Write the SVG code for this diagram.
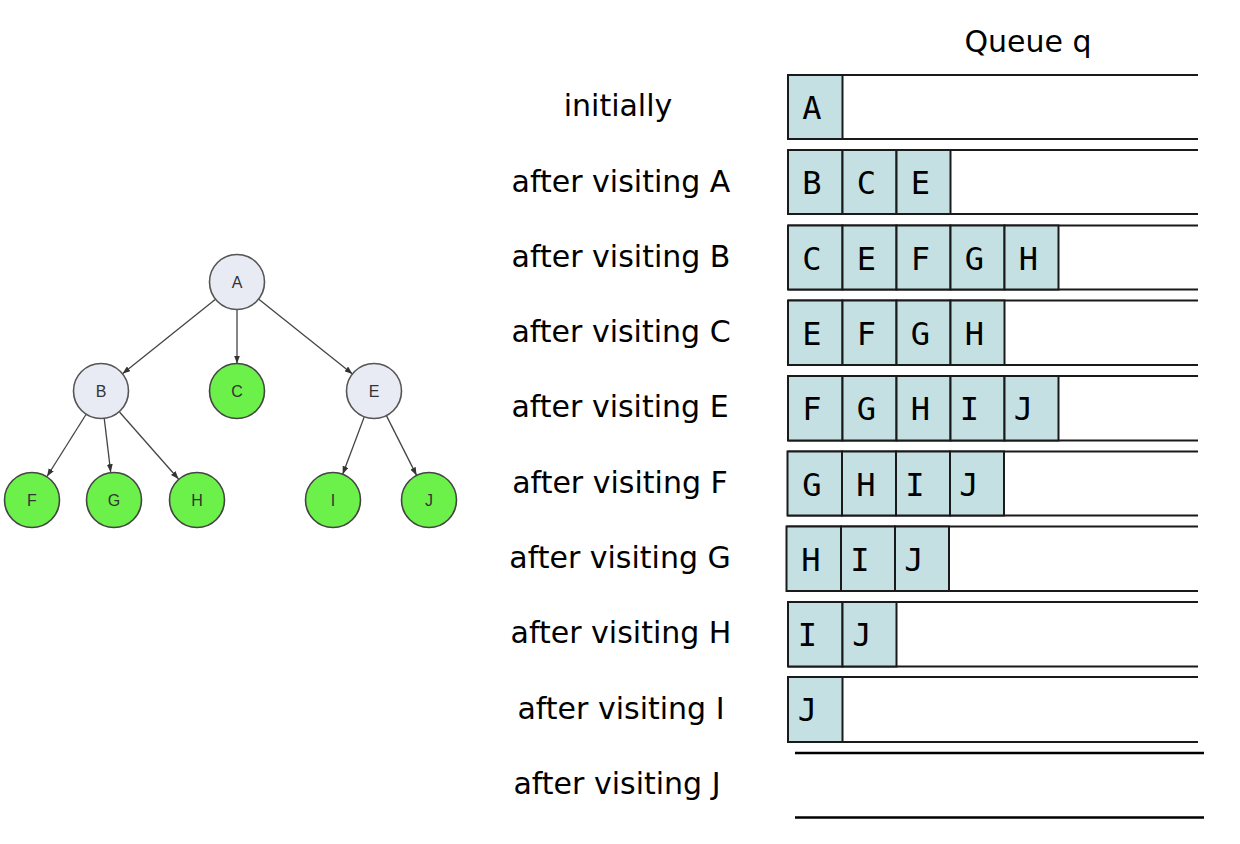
<svg xmlns="http://www.w3.org/2000/svg" width="1240" height="844" viewBox="0 0 1240 844">
<defs>
<marker id="arr" markerWidth="8" markerHeight="6" refX="8" refY="3" orient="auto" markerUnits="userSpaceOnUse">
<path d="M0,0 L8,3 L0,6 z" fill="#333"/>
</marker>
<style>
.node-grey{fill:#e8ebf3;stroke:#555;stroke-width:1.6}
.node-green{fill:#6cf04a;stroke:#444;stroke-width:1.6}
.nlabel{font-family:"Liberation Sans",Arial,sans-serif;font-size:16px;fill:#333;text-anchor:middle}
.edge{stroke:#444;stroke-width:1.3;fill:none;marker-end:url(#arr)}
.lbl{font-family:"DejaVu Sans",Verdana,sans-serif;font-size:30px;fill:#000;text-anchor:middle}
.cell{fill:#c4e0e2;stroke:#1a1a1a;stroke-width:2}
.rail{stroke:#1a1a1a;stroke-width:2;fill:none}
.rail2{stroke:#000;stroke-width:2.5;fill:none}
.cl{font-family:"DejaVu Sans Mono",monospace;font-size:32px;fill:#000;text-anchor:middle}
</style>
</defs>
<rect width="1240" height="844" fill="#fff"/>

<g id="connectors">
<line class="edge" x1="215.5" y1="299.2" x2="122.5" y2="373.8"/>
<line class="edge" x1="237" y1="309.5" x2="237" y2="363.5"/>
<line class="edge" x1="258.5" y1="299.1" x2="352.5" y2="373.9"/>
<line class="edge" x1="86" y1="414.5" x2="47" y2="476.5"/>
<line class="edge" x1="104.3" y1="418.8" x2="110.7" y2="472.2"/>
<line class="edge" x1="119.5" y1="412" x2="178.5" y2="479"/>
<line class="edge" x1="364.3" y1="416.7" x2="342.7" y2="474.3"/>
<line class="edge" x1="386.4" y1="415.6" x2="416.6" y2="475.4"/>
</g>

<g id="node-A"><circle class="node-grey" cx="237" cy="282" r="27.5"/><text class="nlabel" x="237" y="288">A</text></g>
<g id="node-B"><circle class="node-grey" cx="101" cy="391" r="27.5"/><text class="nlabel" x="101" y="397">B</text></g>
<g id="node-C"><circle class="node-green" cx="237" cy="391" r="27.5"/><text class="nlabel" x="237" y="397">C</text></g>
<g id="node-E"><circle class="node-grey" cx="374" cy="391" r="27.5"/><text class="nlabel" x="374" y="397">E</text></g>
<g id="node-F"><circle class="node-green" cx="32" cy="500" r="27.5"/><text class="nlabel" x="32" y="506">F</text></g>
<g id="node-G"><circle class="node-green" cx="114" cy="500" r="27.5"/><text class="nlabel" x="114" y="506">G</text></g>
<g id="node-H"><circle class="node-green" cx="197" cy="500" r="27.5"/><text class="nlabel" x="197" y="506">H</text></g>
<g id="node-I"><circle class="node-green" cx="333" cy="500" r="27.5"/><text class="nlabel" x="333" y="506">I</text></g>
<g id="node-J"><circle class="node-green" cx="429" cy="500" r="27.5"/><text class="nlabel" x="429" y="506">J</text></g>

<g id="title"><text class="lbl" x="1028" y="52">Queue q</text></g>

<g id="labels">
<text class="lbl" x="618" y="116">initially</text>
<text class="lbl" x="621" y="192">after visiting A</text>
<text class="lbl" x="621" y="267">after visiting B</text>
<text class="lbl" x="621" y="342">after visiting C</text>
<text class="lbl" x="620" y="417">after visiting E</text>
<text class="lbl" x="620" y="493">after visiting F</text>
<text class="lbl" x="620" y="568">after visiting G</text>
<text class="lbl" x="621" y="643">after visiting H</text>
<text class="lbl" x="621" y="719">after visiting I</text>
<text class="lbl" x="617" y="794">after visiting J</text>
</g>

<g id="queue-row-1">
<path class="rail" d="M788,75 H1198 M788,139 H1198"/>
<rect class="cell" x="788" y="75" width="54.5" height="64"/>
<text class="cl" x="812" y="119">A</text>
</g>
<g id="queue-row-2">
<path class="rail" d="M788,150 H1198 M788,214 H1198"/>
<rect class="cell" x="788" y="150" width="54.5" height="64"/>
<rect class="cell" x="842.5" y="150" width="54" height="64"/>
<rect class="cell" x="896.5" y="150" width="54" height="64"/>
<text class="cl" x="812" y="194">B</text>
<text class="cl" x="866.5" y="194">C</text>
<text class="cl" x="920.5" y="194">E</text>
</g>
<g id="queue-row-3">
<path class="rail" d="M788,225.5 H1198 M788,289.5 H1198"/>
<rect class="cell" x="788" y="225.5" width="54.5" height="64"/>
<rect class="cell" x="842.5" y="225.5" width="54" height="64"/>
<rect class="cell" x="896.5" y="225.5" width="54" height="64"/>
<rect class="cell" x="950.5" y="225.5" width="54" height="64"/>
<rect class="cell" x="1004.5" y="225.5" width="54" height="64"/>
<text class="cl" x="812" y="269.5">C</text>
<text class="cl" x="866.5" y="269.5">E</text>
<text class="cl" x="920.5" y="269.5">F</text>
<text class="cl" x="974.5" y="269.5">G</text>
<text class="cl" x="1028.5" y="269.5">H</text>
</g>
<g id="queue-row-4">
<path class="rail" d="M788,300.5 H1198 M788,365 H1198"/>
<rect class="cell" x="788" y="300.5" width="54.5" height="64.5"/>
<rect class="cell" x="842.5" y="300.5" width="54" height="64.5"/>
<rect class="cell" x="896.5" y="300.5" width="54" height="64.5"/>
<rect class="cell" x="950.5" y="300.5" width="54" height="64.5"/>
<text class="cl" x="812" y="345">E</text>
<text class="cl" x="866.5" y="345">F</text>
<text class="cl" x="920.5" y="345">G</text>
<text class="cl" x="974.5" y="345">H</text>
</g>
<g id="queue-row-5">
<path class="rail" d="M788,376 H1198 M788,440.5 H1198"/>
<rect class="cell" x="788" y="376" width="54.5" height="64.5"/>
<rect class="cell" x="842.5" y="376" width="54" height="64.5"/>
<rect class="cell" x="896.5" y="376" width="54" height="64.5"/>
<rect class="cell" x="950.5" y="376" width="54" height="64.5"/>
<rect class="cell" x="1004.5" y="376" width="54" height="64.5"/>
<text class="cl" x="812" y="420">F</text>
<text class="cl" x="866.5" y="420">G</text>
<text class="cl" x="920.5" y="420">H</text>
<text class="cl" x="969.5" y="420">I</text>
<text class="cl" x="1023.5" y="420">J</text>
</g>
<g id="queue-row-6">
<path class="rail" d="M787.5,451.5 H1198 M787.5,515.5 H1198"/>
<rect class="cell" x="787.5" y="451.5" width="54.5" height="64"/>
<rect class="cell" x="842" y="451.5" width="54" height="64"/>
<rect class="cell" x="896" y="451.5" width="54" height="64"/>
<rect class="cell" x="950" y="451.5" width="54" height="64"/>
<text class="cl" x="812" y="495.5">G</text>
<text class="cl" x="866" y="495.5">H</text>
<text class="cl" x="915" y="495.5">I</text>
<text class="cl" x="969" y="495.5">J</text>
</g>
<g id="queue-row-7">
<path class="rail" d="M786.5,526.5 H1198 M786.5,591 H1198"/>
<rect class="cell" x="786.5" y="526.5" width="54.5" height="64.5"/>
<rect class="cell" x="841" y="526.5" width="54" height="64.5"/>
<rect class="cell" x="895" y="526.5" width="54" height="64.5"/>
<text class="cl" x="811" y="571">H</text>
<text class="cl" x="860" y="571">I</text>
<text class="cl" x="914" y="571">J</text>
</g>
<g id="queue-row-8">
<path class="rail" d="M788,602 H1198 M788,666.5 H1198"/>
<rect class="cell" x="788" y="602" width="54.5" height="64.5"/>
<rect class="cell" x="842.5" y="602" width="54" height="64.5"/>
<text class="cl" x="807.5" y="646">I</text>
<text class="cl" x="862" y="646">J</text>
</g>
<g id="queue-row-9">
<path class="rail" d="M788,677 H1198 M788,742 H1198"/>
<rect class="cell" x="788" y="677" width="54.5" height="65"/>
<text class="cl" x="807.5" y="721">J</text>
</g>
<g id="queue-row-10">
<path class="rail2" d="M795,753 H1204 M795,817.5 H1204"/>
</g>
</svg>
